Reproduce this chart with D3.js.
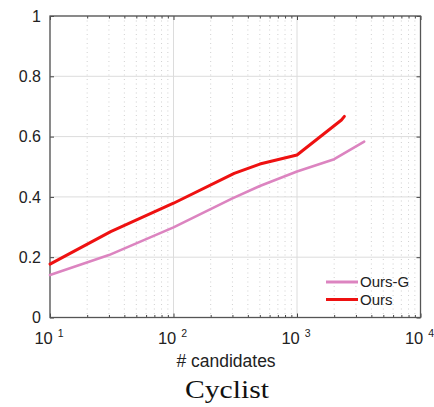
<!DOCTYPE html>
<html>
<head>
<meta charset="utf-8">
<script src="https://cdn.jsdelivr.net/npm/d3@7"></script>
<style>
body { margin: 0; background: #fff; }
text { font-family: "Liberation Sans", Arial, sans-serif; fill: #222; }
</style>
</head>
<body>
<script>
// candidates vs recall
var oursGX = [10, 30, 100, 300, 500, 1000, 2000, 3500];
var oursGY = [0.141, 0.207, 0.299, 0.395, 0.436, 0.484, 0.525, 0.583];
var oursX = [10, 31, 100, 310, 500, 1000, 2290, 2420];
var oursY = [0.177, 0.285, 0.379, 0.478, 0.509, 0.539, 0.655, 0.667];
var yTicks = [0, 0.2, 0.4, 0.6, 0.8, 1];
var xDecades = [1, 2, 3, 4];
var seriesNames = ["Ours-G", "Ours"];
var seriesColors = ["#dc84c0", "#ee1111"];

var svg = d3.select("body").append("svg")
	.attr("width", 434)
	.attr("height", 407);

var pLeft = 50, pRight = 420.5, pTop = 16, pBottom = 317.5;

var x = d3.scaleLog().domain([10, 10000]).range([pLeft, pRight]);
var y = d3.scaleLinear().domain([0, 1]).range([pBottom, pTop]);

var minor = [];
xDecades.slice(0, 3).forEach(function(e) {
	for (var m = 2; m < 10; m++) minor.push(m * Math.pow(10, e));
});
var major = xDecades.map(function(e) { return Math.pow(10, e); });

var grid = svg.append("g");
grid.selectAll("line.minor").data(minor).enter().append("line")
	.attr("x1", function(d) { return x(d); })
	.attr("x2", function(d) { return x(d); })
	.attr("y1", pTop).attr("y2", pBottom)
	.style("stroke", "#c4c4c4")
	.style("stroke-width", 0.8)
	.style("stroke-dasharray", "1,3.5");
grid.selectAll("line.major").data(major).enter().append("line")
	.attr("x1", function(d) { return x(d); })
	.attr("x2", function(d) { return x(d); })
	.attr("y1", pTop).attr("y2", pBottom)
	.style("stroke", "#dcdcdc")
	.style("stroke-width", 1);
grid.selectAll("line.ygrid").data(yTicks).enter().append("line")
	.attr("x1", pLeft).attr("x2", pRight)
	.attr("y1", function(d) { return y(d); })
	.attr("y2", function(d) { return y(d); })
	.style("stroke", "#dcdcdc")
	.style("stroke-width", 1);

// axes with inward ticks
svg.append("g").attr("transform", "translate(" + pLeft + ",0)")
	.call(d3.axisLeft(y).tickValues(yTicks).tickSizeInner(-4).tickSizeOuter(0).tickPadding(9).tickFormat(d3.format("")))
	.call(function(g) {
		g.select(".domain").remove();
		g.selectAll("line").style("stroke", "#444");
		g.selectAll("text").style("font-size", "16px").style("fill", "#222")
			.style("font-family", "'Liberation Sans', Arial, sans-serif");
	});
svg.append("g").attr("transform", "translate(" + pRight + ",0)")
	.call(d3.axisRight(y).tickValues(yTicks).tickSizeInner(-4).tickSizeOuter(0).tickFormat(""))
	.call(function(g) {
		g.select(".domain").remove();
		g.selectAll("line").style("stroke", "#444");
	});
[pBottom, pTop].forEach(function(py, i) {
	var ax = i === 0 ? d3.axisBottom(x) : d3.axisTop(x);
	var g = svg.append("g").attr("transform", "translate(0," + py + ")")
		.call(ax.tickValues(major).tickSizeInner(-4).tickSizeOuter(0).tickFormat(""));
	g.select(".domain").remove();
	g.selectAll("line").style("stroke", "#444");
	var ax2 = i === 0 ? d3.axisBottom(x) : d3.axisTop(x);
	var g2 = svg.append("g").attr("transform", "translate(0," + py + ")")
		.call(ax2.tickValues(minor).tickSizeInner(-2.5).tickSizeOuter(0).tickFormat(""));
	g2.select(".domain").remove();
	g2.selectAll("line").style("stroke", "#444");
});

// x labels 10^n
var xl = svg.append("g").selectAll("text").data(xDecades).enter().append("text")
	.attr("x", function(d) { return x(Math.pow(10, d)) - 1; })
	.attr("y", 344)
	.attr("text-anchor", "middle")
	.style("font-size", "16.5px");
xl.append("tspan").text("10");
xl.append("tspan").attr("dx", 5).attr("dy", -7.5).style("font-size", "10.5px").text(function(d) { return d; });

svg.append("rect")
	.attr("x", pLeft).attr("y", pTop)
	.attr("width", pRight - pLeft).attr("height", pBottom - pTop)
	.style("fill", "none").style("stroke", "#555").style("stroke-width", 1.3);

var line = d3.line()
	.x(function(d) { return x(d[0]); })
	.y(function(d) { return y(d[1]); });

var series = [d3.zip(oursGX, oursGY), d3.zip(oursX, oursY)];
svg.selectAll("path.series").data(series).enter().append("path")
	.attr("d", line)
	.style("fill", "none")
	.style("stroke", function(d, i) { return seriesColors[i]; })
	.style("stroke-width", function(d, i) { return i === 0 ? 2.6 : 3; })
	.style("stroke-linejoin", "round")
	.style("stroke-linecap", "round");

// legend
var lg = svg.append("g").selectAll("g").data(seriesNames).enter().append("g")
	.attr("transform", function(d, i) { return "translate(326," + (282 + i * 17.5) + ")"; });
lg.append("line")
	.attr("x1", 0).attr("x2", 32)
	.style("stroke", function(d, i) { return seriesColors[i]; })
	.style("stroke-width", 3);
lg.append("text")
	.attr("x", 34).attr("dy", "0.36em")
	.style("font-size", "15px")
	.text(function(d) { return d; });

svg.append("text")
	.attr("x", 226).attr("y", 367)
	.attr("text-anchor", "middle")
	.style("font-size", "17.5px")
	.text("# candidates");

svg.append("text")
	.attr("x", 227).attr("y", 398)
	.attr("text-anchor", "middle")
	.attr("textLength", 84)
	.attr("lengthAdjust", "spacingAndGlyphs")
	.style("font-family", "'Liberation Serif', 'DejaVu Serif', serif")
	.style("font-size", "26px")
	.style("fill", "#111")
	.text("Cyclist");
</script>
</body>
</html>
